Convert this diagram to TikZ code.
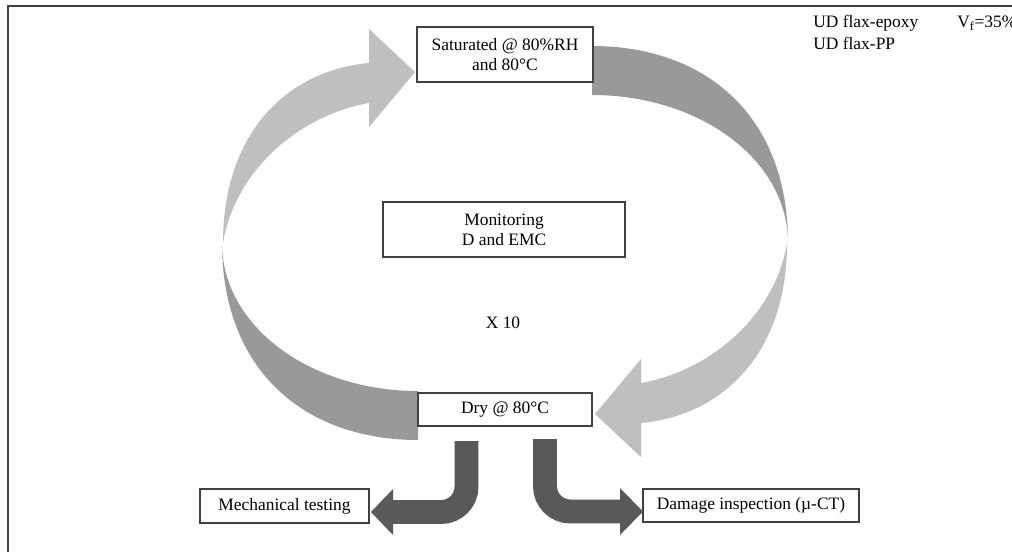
\documentclass[tikz,border=0pt]{standalone}
\usepackage{fontspec}
\setmainfont{Liberation Serif}
\definecolor{lightarr}{HTML}{BFBFBF}
\definecolor{medarr}{HTML}{999999}
\definecolor{darkarr}{HTML}{595959}
\definecolor{boxline}{HTML}{404040}
\begin{document}
\begin{tikzpicture}[x=0.025cm,y=-0.025cm,
  txt/.style={font=\fontsize{12.4}{14.2}\selectfont},
  box/.style={txt, draw=boxline, line width=0.9pt, fill=white, inner sep=0pt, align=center},
  lab/.style={txt, inner sep=0pt},
  lightfill/.style={fill=lightarr},
  medfill/.style={fill=medarr},
  bent/.style={draw=darkarr, line width=17pt, rounded corners=18pt},
  benthead/.style={fill=darkarr}]
\useasboundingbox (0,0) rectangle (1012,552);
% frame (cropped)
\draw[boxline, line width=1.3pt] (1012,6) -- (8,6) -- (8,552);
% cycle arrows
\def\curvedarrow{(223,243) .. controls (223,130) and (290,70) .. (369,63) -- (369,29) -- (415,72) -- (369,127) -- (369,103) .. controls (300,115) and (235,170) .. (223,243) -- cycle}
\def\curvedband{(592,46) .. controls (705,46) and (788,115) .. (788,243) .. controls (788,160) and (700,95) .. (592,95) -- cycle}
\fill[lightfill] \curvedarrow;
\fill[medfill] \curvedband;
\begin{scope}[rotate around={180:(505,243)}]
\fill[lightfill] \curvedarrow;
\fill[medfill] \curvedband;
\end{scope}
% boxes
\node[box, minimum width=4.4cm, minimum height=1.375cm] (sat) at (505,54.5) {Saturated @ 80\%RH\\and 80°C};
\node[box, minimum width=6.05cm, minimum height=1.375cm] (mon) at (504,229.5) {Monitoring\\D and EMC};
\node[lab] (x10) at (503,323) {X 10};
\node[box, minimum width=4.35cm, minimum height=0.825cm] (dry) at (505,409.5) {Dry @ 80°C};
\node[box, minimum width=4.225cm, minimum height=0.85cm] (mech) at (284.5,506) {Mechanical testing};
\node[box, minimum width=5.4cm, minimum height=0.825cm] (dmg) at (751,505.5) {Damage inspection (µ-CT)};
\node[lab, anchor=west] (ud1) at (813,23) {UD flax-epoxy};
\node[lab, anchor=west] (ud2) at (813,43) {UD flax-PP};
\node[lab, anchor=west] (vf) at (957,23) {V\textsubscript{f}=35\%};
% bent output arrows
\draw[bent] (466.5,441) -- (466.5,512) -- (392,512);
\fill[benthead] (393,489) -- (371,512) -- (393,535) -- cycle;
\draw[bent] (545,439) -- (545,511.5) -- (621,511.5);
\fill[benthead] (620,488) -- (643,511.5) -- (620,535) -- cycle;
\end{tikzpicture}
\end{document}
